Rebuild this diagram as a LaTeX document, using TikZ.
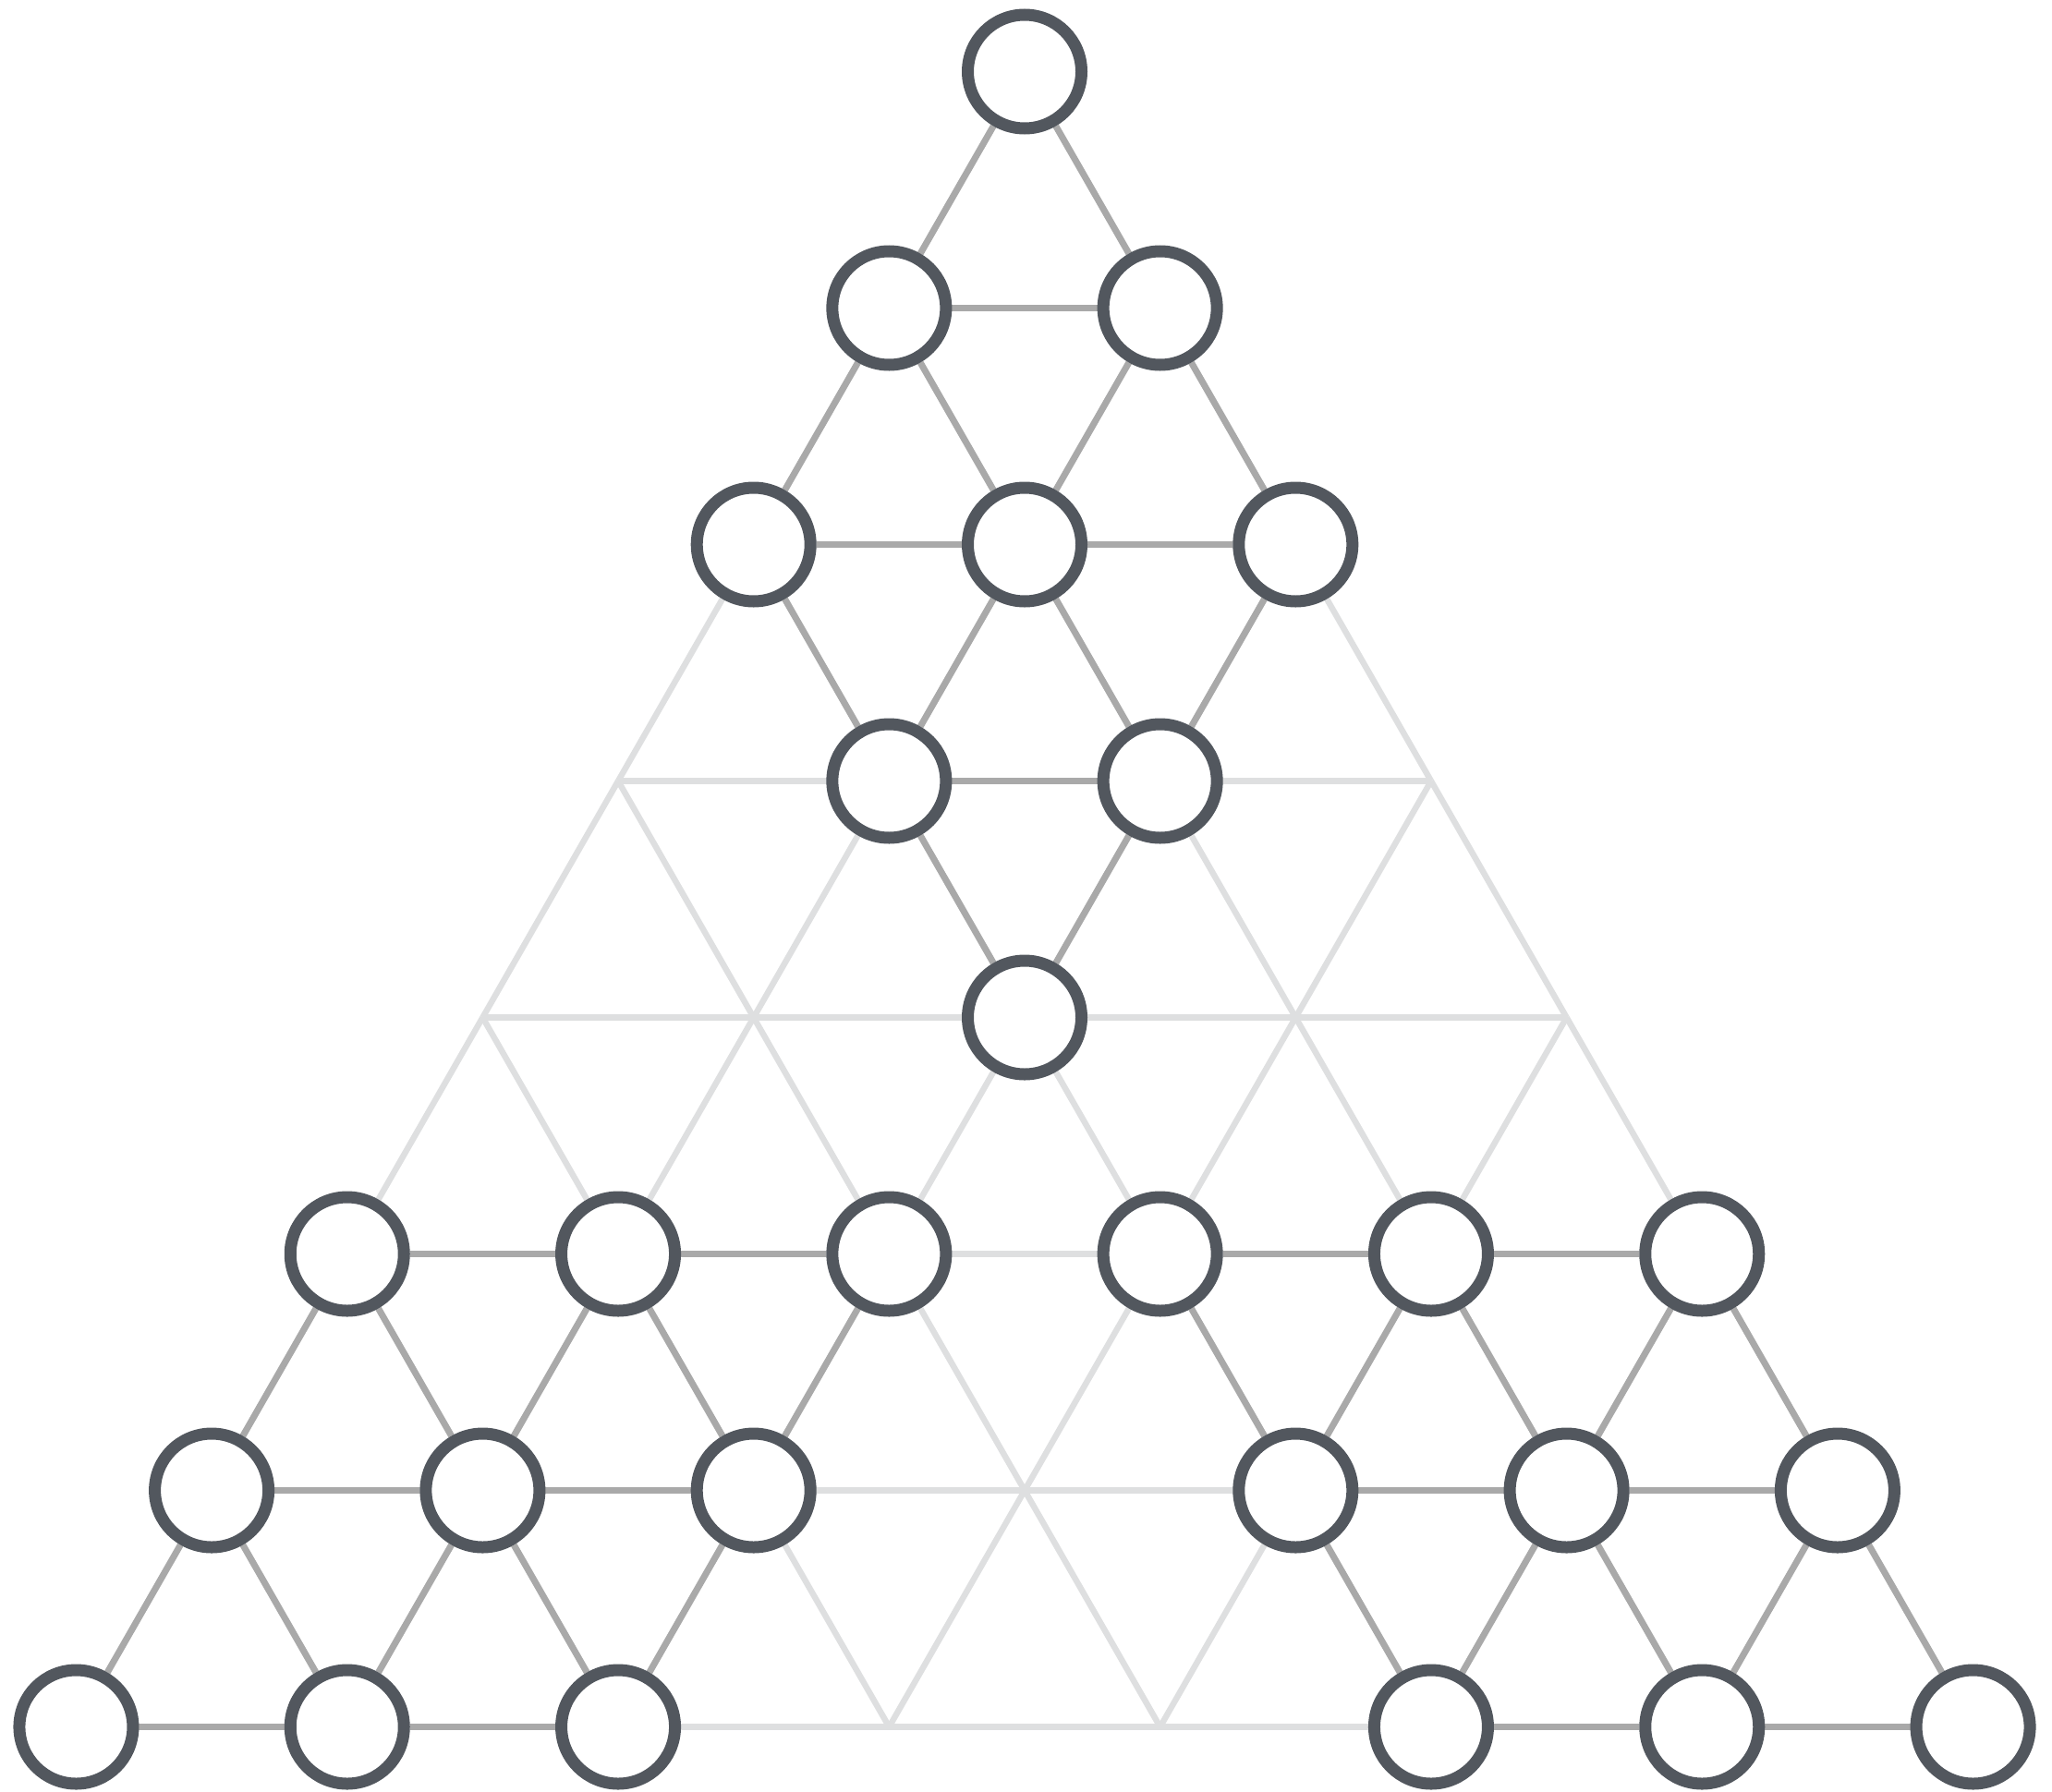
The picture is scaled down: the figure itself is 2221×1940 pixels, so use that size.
\documentclass[tikz,border=0pt]{standalone}
\usetikzlibrary{backgrounds}
\definecolor{nodecol}{HTML}{52575E}
\definecolor{darkedge}{HTML}{A9A9A9}
\definecolor{lightedge}{HTML}{DEDFE0}
\tikzset{
  vtx/.style={circle,draw=nodecol,fill=white,line width=13pt,minimum size=123pt,inner sep=0pt},
  latt/.style={draw=lightedge,line width=6.5pt},
  grp/.style={draw=darkedge,line width=7pt}
}
\begin{document}
\begin{tikzpicture}[x=1pt,y=-1pt]
\useasboundingbox (0,0) rectangle (2221,1940);
\foreach \r in {0,...,7}{
  \foreach \k in {0,...,\r}{
    \coordinate (g-\r-\k) at ({1109+(\k-\r/2)*293.3},{77.5+\r*256});
  }
}
\foreach \r/\k in {0/0,1/0,1/1,2/0,2/1,2/2,3/1,3/2,4/2,
  5/0,5/1,5/2,6/0,6/1,6/2,7/0,7/1,7/2,
  5/3,5/4,5/5,6/4,6/5,6/6,7/5,7/6,7/7}{
  \node[vtx] (n-\r-\k) at (g-\r-\k) {};
}
\begin{pgfonlayer}{background}
\foreach \r in {0,...,6}{
  \pgfmathtruncatemacro{\rn}{\r+1}
  \foreach \k in {0,...,\r}{
    \pgfmathtruncatemacro{\kn}{\k+1}
    \draw[latt] (g-\r-\k) -- (g-\rn-\k);
    \draw[latt] (g-\r-\k) -- (g-\rn-\kn);
  }
}
\foreach \r in {1,...,7}{
  \pgfmathtruncatemacro{\rm}{\r-1}
  \foreach \k in {0,...,\rm}{
    \pgfmathtruncatemacro{\kn}{\k+1}
    \draw[latt] (g-\r-\k) -- (g-\r-\kn);
  }
}
\foreach \a/\b in {0-0/1-0,0-0/1-1,1-0/1-1,1-0/2-0,1-0/2-1,1-1/2-1,1-1/2-2,2-0/2-1,2-1/2-2,2-0/3-1,2-1/3-1,2-1/3-2,2-2/3-2,3-1/3-2,3-1/4-2,3-2/4-2,
  5-0/5-1,5-1/5-2,5-0/6-0,5-0/6-1,5-1/6-1,5-1/6-2,5-2/6-2,6-0/6-1,6-1/6-2,6-0/7-0,6-0/7-1,6-1/7-1,6-1/7-2,6-2/7-2,7-0/7-1,7-1/7-2,
  5-3/5-4,5-4/5-5,5-3/6-4,5-4/6-4,5-4/6-5,5-5/6-5,5-5/6-6,6-4/6-5,6-5/6-6,6-4/7-5,6-5/7-5,6-5/7-6,6-6/7-6,6-6/7-7,7-5/7-6,7-6/7-7}{
  \draw[grp] (n-\a) -- (n-\b);
}
\end{pgfonlayer}
\end{tikzpicture}
\end{document}
